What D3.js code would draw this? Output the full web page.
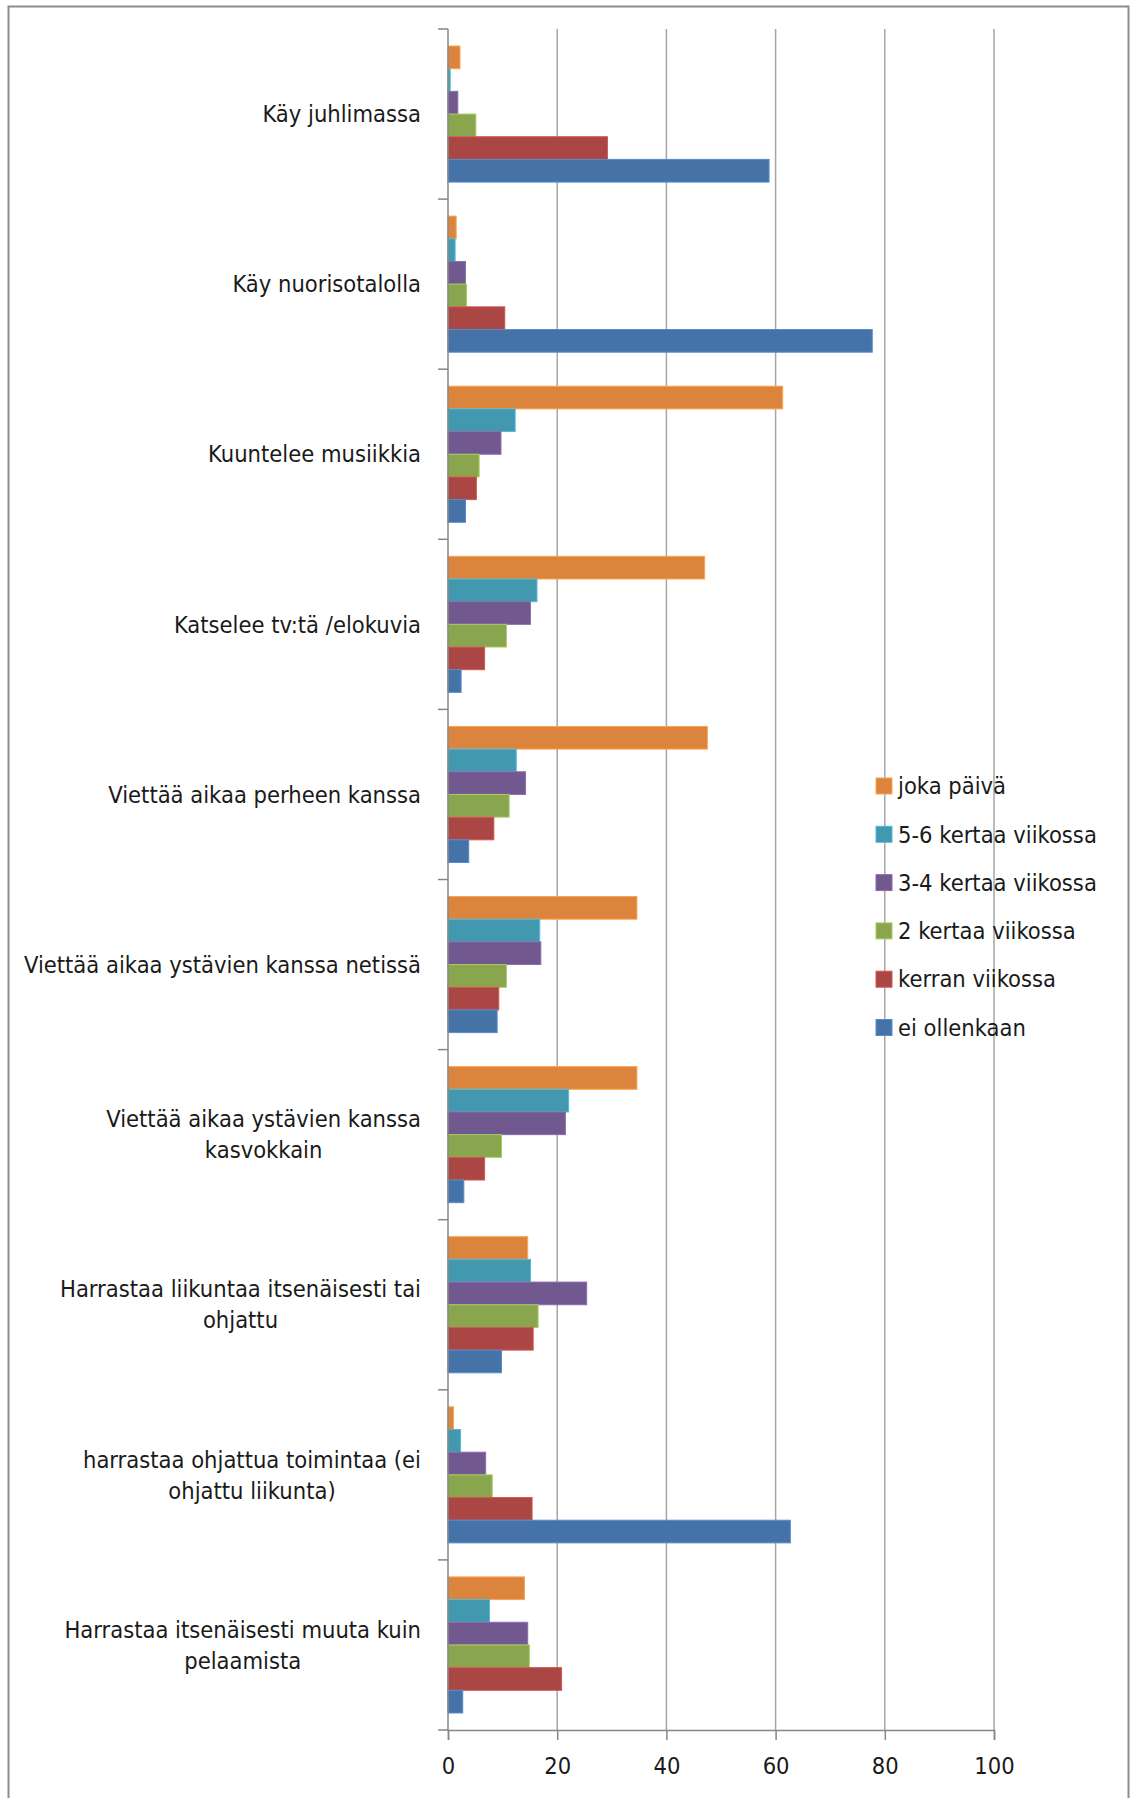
<!DOCTYPE html>
<html>
<head>
<meta charset="utf-8">
<script src="https://cdn.jsdelivr.net/npm/d3@7"></script>
<style>
    body { margin: 0; background: #fff; }
    text { font-family: "Liberation Sans Narrow", "DejaVu Sans Condensed", sans-serif; fill: #1a1a1a; }
</style>
</head>
<body>
<div id="chart"></div>
<script>
// categories, top to bottom as drawn
var categories = [
    ["Käy juhlimassa"],
    ["Käy nuorisotalolla"],
    ["Kuuntelee musiikkia"],
    ["Katselee tv:tä /elokuvia"],
    ["Viettää aikaa perheen kanssa"],
    ["Viettää aikaa ystävien kanssa netissä"],
    ["Viettää aikaa ystävien kanssa", "kasvokkain"],
    ["Harrastaa liikuntaa itsenäisesti tai", "ohjattu"],
    ["harrastaa ohjattua toimintaa (ei", "ohjattu liikunta)"],
    ["Harrastaa itsenäisesti muuta kuin", "pelaamista"]
];

// series, in legend order (top bar of each group first)
var seriesNames = ["joka päivä", "5-6 kertaa viikossa", "3-4 kertaa viikossa",
                   "2 kertaa viikossa", "kerran viikossa", "ei ollenkaan"];
var seriesColors = ["#DB843D", "#4198AF", "#71588F", "#89A54E", "#AA4643", "#4572A7"];

var jokaPaiva   = [2.2, 1.5, 61.3, 47.0, 47.5, 34.6, 34.6, 14.6, 1.0, 14.0];
var kertaa56    = [0.4, 1.3, 12.3, 16.3, 12.5, 16.8, 22.1, 15.1, 2.3, 7.6];
var kertaa34    = [1.8, 3.2, 9.7, 15.1, 14.2, 17.0, 21.5, 25.4, 6.9, 14.6];
var kertaa2     = [5.1, 3.4, 5.7, 10.7, 11.2, 10.7, 9.8, 16.5, 8.1, 14.9];
var kerran      = [29.2, 10.4, 5.2, 6.7, 8.4, 9.3, 6.7, 15.6, 15.4, 20.8];
var eiOllenkaan = [58.8, 77.7, 3.2, 2.4, 3.8, 9.0, 2.9, 9.8, 62.7, 2.7];

var seriesValues = [jokaPaiva, kertaa56, kertaa34, kertaa2, kerran, eiOllenkaan];

var xTicks = [0, 20, 40, 60, 80, 100];

var width = 1132, height = 1798;
var plot = { left: 448, right: 994, top: 29, bottom: 1730 };
var fontSize = "23.5px";

var svg = d3.select("#chart").append("svg")
    .attr("width", width)
    .attr("height", height);

// chart frame
svg.append("rect")
    .attr("x", 8.5).attr("y", 6.5)
    .attr("width", 1120).attr("height", 1820)
    .attr("fill", "none")
    .attr("stroke", "#8c8c8c")
    .attr("stroke-width", 2);

var catIndex = d3.range(categories.length);

var x = d3.scaleLinear().domain([0, 100]).range([plot.left, plot.right]);
var y = d3.scaleBand().domain(catIndex).range([plot.top, plot.bottom]).padding(0);
var ySeries = d3.scaleBand().domain(d3.range(seriesNames.length))
    .range([0, y.bandwidth()])
    .paddingInner(0)
    .paddingOuter(0.75);

// vertical gridlines
svg.append("g")
    .selectAll("line")
    .data(xTicks.slice(1))
    .enter()
    .append("line")
    .attr("x1", d => x(d)).attr("x2", d => x(d))
    .attr("y1", plot.top).attr("y2", plot.bottom)
    .attr("stroke", "#a6a6a6")
    .attr("stroke-width", 1.5);

// bars
var rows = [];
catIndex.forEach(i => {
    seriesValues.forEach((vals, s) => {
        rows.push({ cat: i, s: s, value: vals[i] });
    });
});

svg.append("g")
    .selectAll("rect")
    .data(rows)
    .enter()
    .append("rect")
    .attr("x", x(0))
    .attr("y", d => y(d.cat) + ySeries(d.s))
    .attr("width", d => x(d.value) - x(0))
    .attr("height", ySeries.bandwidth())
    .attr("fill", d => seriesColors[d.s])
    .attr("stroke", d => d3.color(seriesColors[d.s]).brighter(0.6))
    .attr("stroke-width", 1);

// x axis
var xAxis = d3.axisBottom(x).tickValues(xTicks).tickSize(10).tickPadding(17);
var gx = svg.append("g")
    .attr("transform", `translate(0,${plot.bottom})`)
    .call(xAxis);
gx.select(".domain").attr("stroke", "#868686").attr("stroke-width", 1.5);
gx.selectAll(".tick line").attr("stroke", "#868686").attr("stroke-width", 1.5);
gx.selectAll(".tick text")
    .style("font-size", fontSize)
    .attr("fill", "#1a1a1a");

// y axis line and category boundary ticks
svg.append("line")
    .attr("x1", x(0)).attr("x2", x(0))
    .attr("y1", plot.top).attr("y2", plot.bottom)
    .attr("stroke", "#868686").attr("stroke-width", 1.5);

svg.append("g")
    .selectAll("line")
    .data(d3.range(categories.length + 1))
    .enter()
    .append("line")
    .attr("x1", x(0) - 10).attr("x2", x(0))
    .attr("y1", d => plot.top + d * y.step())
    .attr("y2", d => plot.top + d * y.step())
    .attr("stroke", "#868686").attr("stroke-width", 1.5);

// category labels, lines centred on each other, block right aligned
var labelRight = 421, lineH = 31;
var labels = svg.append("g")
    .selectAll("g")
    .data(catIndex)
    .enter()
    .append("g");

labels.each(function (i) {
    var g = d3.select(this);
    var lines = categories[i];
    var cy = y(i) + y.bandwidth() / 2;
    var texts = lines.map((t, k) => g.append("text")
        .attr("y", cy + (k - (lines.length - 1) / 2) * lineH)
        .attr("dy", "0.35em")
        .style("font-size", fontSize)
        .attr("text-anchor", "middle")
        .text(t));
    var maxW = d3.max(texts, t => t.node().getComputedTextLength());
    texts.forEach(t => t.attr("x", labelRight - maxW / 2));
});

// legend
var legend = svg.append("g")
    .selectAll("g")
    .data(seriesNames)
    .enter()
    .append("g")
    .attr("transform", (d, i) => `translate(876,${786 + i * 48.3})`);

legend.append("rect")
    .attr("x", 0).attr("y", -8)
    .attr("width", 16).attr("height", 16)
    .attr("fill", (d, i) => seriesColors[i])
    .attr("stroke", (d, i) => d3.color(seriesColors[i]).brighter(0.6));

legend.append("text")
    .attr("x", 22)
    .attr("dy", "0.35em")
    .style("font-size", fontSize)
    .text(d => d);
</script>
</body>
</html>
